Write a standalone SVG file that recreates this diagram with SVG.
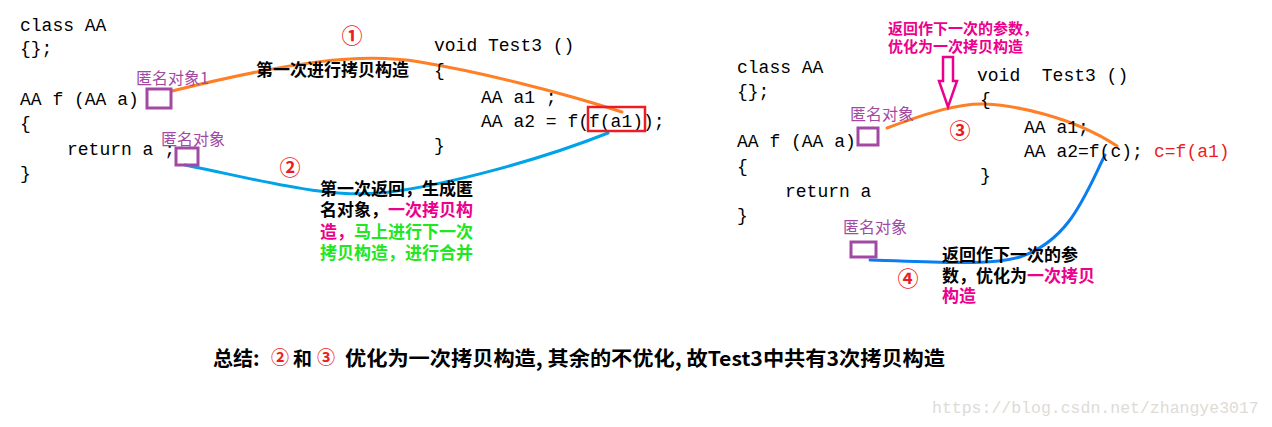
<svg xmlns="http://www.w3.org/2000/svg" width="1272" height="427" viewBox="0 0 1272 427">
<style>
.code{font-family:"Liberation Mono",monospace;font-size:18px;fill:#000;}
.cjk{font-family:"Noto Sans CJK SC",sans-serif;font-weight:700;font-size:17px;fill:#000;}
.lbl{font-family:"Noto Sans CJK SC",sans-serif;font-size:16px;fill:#a349a4;}
.box{fill:none;stroke:#a349a4;stroke-width:3;}
.num{font-family:"Noto Sans CJK SC",sans-serif;font-weight:700;font-size:21px;fill:#ed1c24;text-anchor:middle;}
.orange{fill:none;stroke:#ff7f27;stroke-width:3;stroke-linecap:round;}
.blue{fill:none;stroke:#00a2e8;stroke-width:3;stroke-linecap:round;}
.pink{fill:#ec008c;}
.green{fill:#22e622;}
.red{fill:#ed1c24;}
</style>
<rect width="1272" height="427" fill="#fff"/>

<g id="connectors">
  <path class="orange" d="M172,91 C290,62 360,52 420,62 S560,92 622,112"/>
  <path class="blue" d="M185,165 C260,180 330,200 390,192 S540,160 608,133"/>
  <path class="orange" d="M887,128 C930,112 960,103 985,104 S1070,115 1117,146"/>
  <path class="blue" style="stroke:#0a7ef0" d="M1105,155 C1085,195 1070,240 1020,257 C990,266 940,262 870,260"/>
</g>

<g id="left-class-code">
  <text class="code" x="20" y="31">class AA</text>
  <text class="code" x="20" y="54">{};</text>
  <text class="code" x="20" y="105">AA f (AA a)</text>
  <text class="code" x="20" y="129">{</text>
  <text class="code" x="67" y="155">return a ;</text>
  <text class="code" x="20" y="179">}</text>
</g>

<g id="left-anon1">
  <text class="lbl" x="136" y="84">匿名对象1</text>
  <rect class="box" x="147" y="89" width="24" height="19"/>
</g>

<g id="left-anon2">
  <text class="lbl" x="161" y="145">匿名对象</text>
  <rect class="box" x="176" y="148" width="22" height="17"/>
</g>

<g id="left-test3">
  <text class="code" x="434" y="51">void Test3 ()</text>
  <text class="code" x="434" y="76">{</text>
  <text class="code" x="481" y="103">AA a1 ;</text>
  <text class="code" x="481" y="127">AA a2 = f(f(a1));</text>
  <text class="code" x="434" y="151">}</text>
  <rect x="588" y="107" width="57" height="24" fill="none" stroke="#ed1c24" stroke-width="2.5"/>
</g>

<g id="step1">
  <text class="num" x="352" y="43">①</text>
  <text class="cjk" x="256" y="76">第一次进行拷贝构造</text>
</g>

<g id="step2">
  <text class="num" x="290" y="175">②</text>
  <text class="cjk"><tspan x="320" y="195">第一次返回，生成匿</tspan><tspan x="320" y="216">名对象，<tspan class="pink">一次拷贝构</tspan></tspan><tspan x="320" y="238" class="pink">造，<tspan class="green">马上进行下一次</tspan></tspan><tspan x="320" y="259" class="green">拷贝构造，进行合并</tspan></text>
</g>

<g id="right-class-code">
  <text class="code" x="737" y="73">class AA</text>
  <text class="code" x="737" y="97">{};</text>
  <text class="code" x="737" y="147">AA f (AA a)</text>
  <text class="code" x="737" y="172">{</text>
  <text class="code" x="785" y="197">return a</text>
  <text class="code" x="737" y="221">}</text>
</g>

<g id="right-anon1">
  <text class="lbl" x="850" y="120">匿名对象</text>
  <rect class="box" x="858" y="128" width="20" height="17"/>
</g>

<g id="right-test3">
  <text class="code" x="977" y="81" xml:space="preserve">void  Test3 ()</text>
  <text class="code" x="980" y="105">{</text>
  <text class="code" x="1024" y="133">AA a1;</text>
  <text class="code" x="1024" y="157">AA a2=f(c);</text>
  <text class="code red" x="1154" y="157">c=f(a1)</text>
  <text class="code" x="980" y="181">}</text>
</g>

<g id="note3">
  <text class="cjk pink" style="font-size:15px"><tspan x="888" y="34">返回作下一次的参数，</tspan><tspan x="888" y="52">优化为一次拷贝构造</tspan></text>
  <polygon points="943,57 953,57 953,81 957,81 948,107 939,81 943,81" fill="#fff" stroke="#ec008c" stroke-width="2.5"/>
  <text class="num" x="960" y="138">③</text>
</g>

<g id="right-anon2">
  <text class="lbl" x="843" y="233">匿名对象</text>
  <rect class="box" x="851" y="242" width="25" height="15"/>
</g>

<g id="step4">
  <text class="num" x="908" y="286">④</text>
  <text class="cjk"><tspan x="942" y="261">返回作下一次的参</tspan><tspan x="942" y="282">数，优化为<tspan class="pink">一次拷贝</tspan></tspan><tspan x="942" y="302" class="pink">构造</tspan></text>
</g>

<g id="summary">
  <text class="cjk" style="font-size:20px" x="213" y="366">总结:</text>
  <text class="num" style="font-size:18px" x="280" y="364">②</text>
  <text class="cjk" style="font-size:19px" x="293" y="366">和</text>
  <text class="num" style="font-size:18px" x="326" y="364">③</text>
  <text class="cjk" style="font-size:20px" x="345" y="366" textLength="600" lengthAdjust="spacingAndGlyphs">优化为一次拷贝构造, 其余的不优化, 故Test3中共有3次拷贝构造</text>
</g>

<text x="932" y="413" style="font-family:'Liberation Mono',monospace;font-size:16.5px;fill:#dedbd6;">https://blog.csdn.net/zhangye3017</text>
</svg>
